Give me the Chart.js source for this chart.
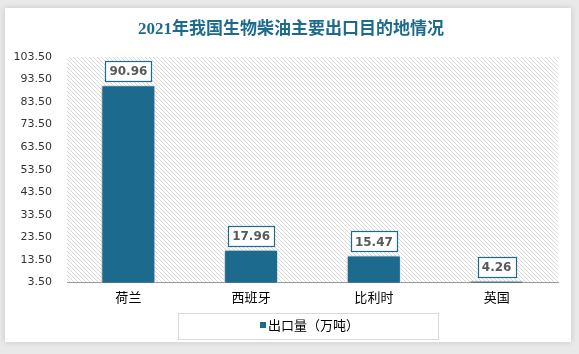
<!DOCTYPE html>
<html><head><meta charset="utf-8">
<script src="https://cdn.jsdelivr.net/npm/chart.js@4"></script>
<style>html,body{margin:0;padding:0;background:#e9e9e9;}#wrap{width:579px;height:354px;position:relative;}</style>
</head><body><div id="wrap"><canvas id="c" width="579" height="354"></canvas></div>
<script>
const titleText = '2021年我国生物柴油主要出口目的地情况';
const categories = ['荷兰', '西班牙', '比利时', '英国'];
const seriesName = '出口量（万吨）';
const exportVolume = [90.96, 17.96, 15.47, 4.26];
const yMin = 3.5, yMax = 103.5, yStep = 10;

const TEAL = '#1c6b8e';

function hatchPattern(ctx) {
  const c = document.createElement('canvas');
  c.width = 4; c.height = 4;
  const g = c.getContext('2d');
  g.fillStyle = '#ffffff'; g.fillRect(0,0,4,4);
  g.fillStyle = '#d8d8d8';
  for (let i = 0; i < 4; i++) g.fillRect(i, i, 1, 1);
  return ctx.createPattern(c, 'repeat');
}

const deco = {
  id: 'deco',
  beforeDraw(chart) {
    const ctx = chart.ctx, a = chart.chartArea;
    ctx.save();
    ctx.fillStyle = '#e9e9e9';
    ctx.fillRect(0,0,chart.width,chart.height);
    ctx.shadowColor = 'rgba(0,0,0,0.15)';
    ctx.shadowBlur = 6;
    ctx.fillStyle = '#ffffff';
    ctx.fillRect(5,8,566,334);
    ctx.shadowColor = 'transparent';
    ctx.fillStyle = hatchPattern(ctx);
    ctx.fillRect(Math.round(a.left), Math.round(a.top), Math.round(a.right-a.left), Math.round(a.bottom-a.top));
    // title
    ctx.fillStyle = TEAL;
    ctx.font = 'bold 17px "Liberation Serif", "Noto Sans CJK SC", serif';
    ctx.textAlign = 'center'; ctx.textBaseline = 'middle';
    ctx.fillText(titleText, 291, 30);
    // legend box
    ctx.strokeStyle = '#d9d9d9'; ctx.lineWidth = 1;
    ctx.strokeRect(178.5, 313.5, 260, 26);
    // legend item
    ctx.fillStyle = TEAL;
    ctx.fillRect(260, 322, 6, 6);
    ctx.fillStyle = '#000';
    ctx.font = '13px "Noto Sans CJK SC", sans-serif';
    ctx.textAlign = 'left';
    ctx.fillText(chart.data.datasets[0].label, 268, 325);
    ctx.restore();
  },
  beforeDatasetDraw(chart) {
    const ctx = chart.ctx;
    ctx.save();
    ctx.shadowColor = 'rgba(0,0,0,0.35)';
    ctx.shadowBlur = 5;
    ctx.shadowOffsetX = -1;
    ctx.shadowOffsetY = 0;
  },
  afterDatasetDraw(chart) {
    chart.ctx.restore();
  },
  afterDatasetsDraw(chart) {
    const ctx = chart.ctx;
    const meta = chart.getDatasetMeta(0);
    ctx.save();
    ctx.font = 'bold 12px "DejaVu Sans", Verdana, sans-serif';
    ctx.textAlign = 'center'; ctx.textBaseline = 'middle';
    meta.data.forEach((bar, i) => {
      const txt = exportVolume[i].toFixed(2);
      const w = Math.max(38, Math.ceil(ctx.measureText(txt).width) + 8);
      const h = 20;
      const cx = bar.x, by = bar.y - 4;
      const x0 = Math.round(cx - w/2)+0.5, y0 = Math.round(by - h)+0.5;
      ctx.fillStyle = '#ffffff';
      ctx.fillRect(x0, y0, w, h);
      ctx.strokeStyle = TEAL; ctx.lineWidth = 1.2;
      ctx.strokeRect(x0, y0, w, h);
      ctx.fillStyle = '#595959';
      ctx.fillText(txt, cx, by - h/2 + 1);
    });
    ctx.restore();
  }
};

new Chart(document.getElementById('c'), {
  type: 'bar',
  data: {
    labels: categories,
    datasets: [{
      label: seriesName,
      data: exportVolume,
      backgroundColor: TEAL,
      borderColor: '#ffffff',
      borderWidth: 1,
      categoryPercentage: 1.0,
      barPercentage: 0.44
    }]
  },
  options: {
    responsive: false,
    animation: false,
    devicePixelRatio: 1,
    layout: { padding: { top: 57, right: 21, bottom: 42, left: 0 } },
    plugins: {
      title: { display: false },
      tooltip: { enabled: false },
      legend: { display: false }
    },
    scales: {
      x: {
        grid: { display: false, drawTicks: false },
        border: { display: true, color: '#999999', width: 1 },
        ticks: { color: '#000', padding: 7, font: { size: 13, family: '"Noto Sans CJK SC", sans-serif' } }
      },
      y: {
        min: yMin, max: yMax,
        afterFit(scale) { scale.width = 67; },
        afterBuildTicks(scale) {
          const t = [];
          for (let v = yMin; v <= yMax + 1e-9; v += yStep) t.push({ value: Math.round(v*100)/100 });
          scale.ticks = t;
        },
        grid: { display: false, drawTicks: false },
        border: { display: false },
        ticks: {
          padding: 15, color: '#333',
          font: { size: 11, family: '"DejaVu Sans", Verdana, sans-serif' },
          callback: v => Number(v).toFixed(2)
        }
      }
    }
  },
  plugins: [deco]
});
</script></body></html>
